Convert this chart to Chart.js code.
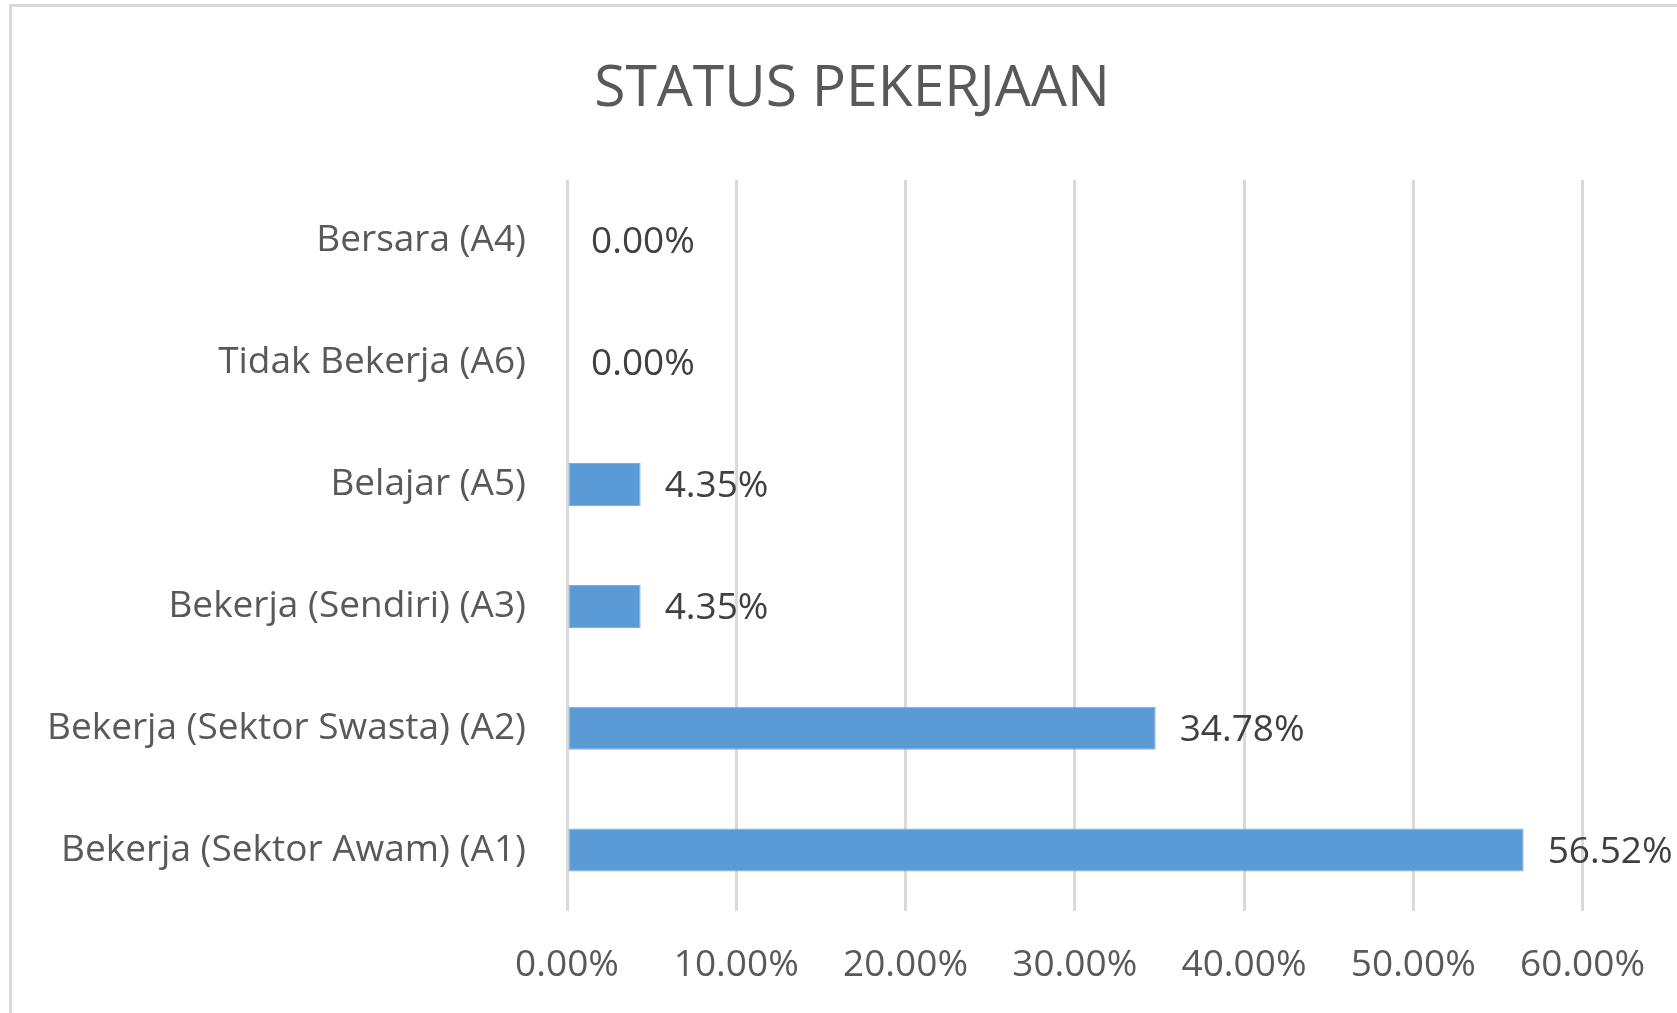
<!DOCTYPE html>
<html>
<head>
<meta charset="utf-8">
<script src="https://cdn.jsdelivr.net/npm/chart.js@4/dist/chart.umd.min.js"></script>
<style>
  html, body { margin: 0; padding: 0; background: #fff; overflow: hidden; }
  .frame {
    position: absolute; left: 9px; top: 4px; width: 1800px; height: 1200px;
    border-top: 3px solid #d9d9d9; border-left: 3px solid #d9d9d9;
  }
  .title {
    position: absolute; left: 0; top: 49px; width: 1704px; text-align: center;
    font-family: "Open Sans", sans-serif; font-size: 57px; line-height: 70px; color: #595959;
  }
  #chart { position: absolute; left: 0; top: 0; }
</style>
</head>
<body>
<div class="frame"></div>
<div class="title">STATUS PEKERJAAN</div>
<canvas id="chart" width="1677" height="1013"></canvas>
<script>
  // data
  const categories = [
    "Bersara (A4)",
    "Tidak Bekerja (A6)",
    "Belajar (A5)",
    "Bekerja (Sendiri) (A3)",
    "Bekerja (Sektor Swasta) (A2)",
    "Bekerja (Sektor Awam) (A1)"
  ];
  const percentValues = [0, 0, 4.35, 4.35, 34.78, 56.52];
  const axisMax = 60;
  const axisStep = 10;

  const font = { family: "'Open Sans', sans-serif", size: 37 };
  const textGray = "#595959";

  // value labels next to each bar
  const valueLabels = {
    id: "valueLabels",
    afterDatasetsDraw(chart) {
      const ctx = chart.ctx;
      const meta = chart.getDatasetMeta(0);
      ctx.save();
      ctx.font = font.size + "px " + font.family;
      ctx.fillStyle = "#404040";
      ctx.textAlign = "left";
      ctx.textBaseline = "middle";
      meta.data.forEach((bar, i) => {
        ctx.fillText(percentValues[i].toFixed(2) + "%", bar.x + 24, bar.y + 2);
      });
      ctx.restore();
    }
  };

  new Chart(document.getElementById("chart"), {
    type: "bar",
    data: {
      labels: categories,
      datasets: [{
        data: percentValues,
        backgroundColor: "#5b9bd5",
        borderColor: "#7eb0df",
        borderWidth: 1,
        borderSkipped: false,
        barPercentage: 0.353,
        categoryPercentage: 1
      }]
    },
    options: {
      indexAxis: "y",
      responsive: false,
      animation: false,
      devicePixelRatio: 1,
      layout: { padding: { top: 180, left: 0, right: 94, bottom: 0 } },
      plugins: {
        legend: { display: false },
        title: { display: false },
        tooltip: { enabled: false }
      },
      scales: {
        x: {
          min: 0,
          max: axisMax,
          border: { display: false },
          grid: { color: "#d9d9d9", lineWidth: 3, drawTicks: false },
          ticks: {
            stepSize: axisStep,
            font: font,
            color: textGray,
            padding: 32,
            maxRotation: 0,
            callback: v => v.toFixed(2) + "%"
          },
          afterFit: s => { s.height = 102; }
        },
        y: {
          border: { display: false },
          grid: { display: false, drawTicks: false },
          ticks: { font: font, color: textGray, padding: 41 },
          afterFit: s => { s.width = 567; }
        }
      }
    },
    plugins: [valueLabels]
  });
</script>
</body>
</html>
